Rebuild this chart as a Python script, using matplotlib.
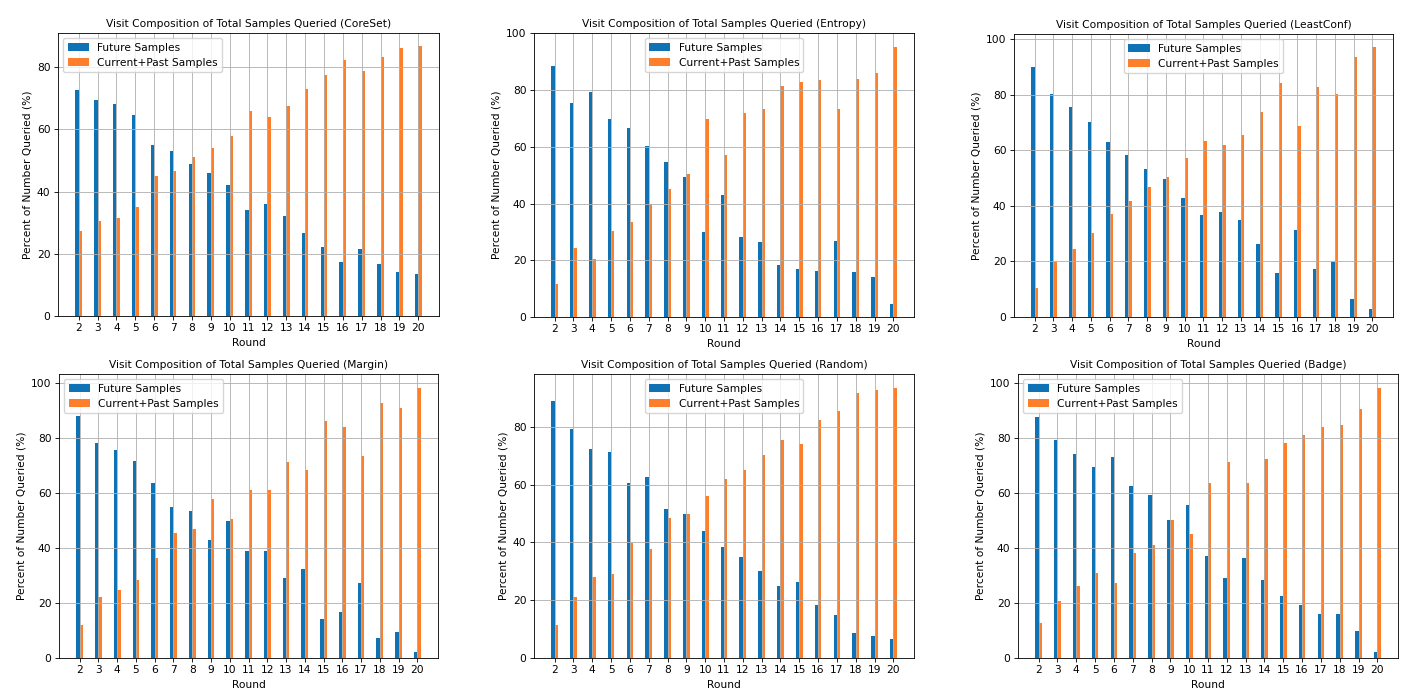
import matplotlib
matplotlib.use("Agg")
import matplotlib.pyplot as plt
import numpy as np

rounds = list(range(2, 21))

coreset_future = [72.7, 69.5, 68.2, 64.8, 55.1, 53.0, 48.9, 46.1, 42.2, 34.0, 36.0, 32.3, 26.8, 22.2, 17.5, 21.5, 16.8, 14.0, 13.4]
coreset_past = [27.4, 30.4, 31.6, 35.2, 44.9, 46.8, 51.3, 54.0, 57.8, 66.1, 64.1, 67.6, 73.0, 77.6, 82.4, 78.7, 83.4, 86.1, 86.7]

entropy_future = [88.5, 75.5, 79.5, 69.8, 66.5, 60.2, 54.8, 49.4, 30.0, 43.0, 28.2, 26.5, 18.5, 17.1, 16.3, 26.8, 16.0, 14.1, 4.6]
entropy_past = [11.5, 24.5, 20.5, 30.2, 33.5, 39.8, 45.2, 50.6, 70.0, 57.0, 71.8, 73.5, 81.5, 82.9, 83.7, 73.2, 84.0, 85.9, 95.4]

leastconf_future = [90.0, 80.2, 75.6, 70.0, 63.0, 58.2, 53.2, 49.7, 43.0, 36.7, 37.9, 34.8, 26.2, 16.0, 31.2, 17.1, 19.7, 6.6, 3.0]
leastconf_past = [10.3, 19.7, 24.6, 30.1, 37.2, 41.9, 46.8, 50.4, 57.1, 63.4, 62.0, 65.4, 73.8, 84.1, 68.9, 82.9, 80.2, 93.4, 97.0]

margin_future = [87.9, 78.2, 75.5, 71.5, 63.7, 54.8, 53.3, 42.8, 49.8, 38.9, 38.9, 29.1, 32.3, 14.1, 16.6, 27.1, 7.4, 9.3, 2.1]
margin_past = [12.1, 22.0, 24.7, 28.5, 36.4, 45.3, 46.9, 57.6, 50.5, 61.1, 61.1, 71.2, 68.2, 86.1, 83.8, 73.3, 92.7, 90.7, 98.2]

random_future = [88.9, 79.1, 72.2, 71.2, 60.7, 62.6, 51.6, 50.0, 44.1, 38.4, 35.0, 30.1, 24.8, 26.2, 18.2, 15.0, 8.6, 7.5, 6.7]
random_past = [11.5, 21.1, 28.2, 29.0, 39.7, 37.6, 48.4, 50.0, 55.9, 62.1, 65.0, 70.1, 75.6, 74.0, 82.3, 85.4, 91.6, 92.9, 93.6]

badge_future = [87.5, 79.3, 74.0, 69.3, 72.9, 62.3, 59.1, 50.1, 55.4, 36.9, 29.1, 36.3, 28.4, 22.5, 19.3, 16.0, 15.8, 9.9, 2.1]
badge_past = [12.6, 20.7, 26.2, 31.0, 27.4, 38.0, 41.0, 50.1, 45.0, 63.4, 71.1, 63.7, 72.1, 77.9, 81.0, 84.0, 84.5, 90.4, 98.2]

methods = ["CoreSet", "Entropy", "LeastConf", "Margin", "Random", "Badge"]
future_data = [coreset_future, entropy_future, leastconf_future, margin_future, random_future, badge_future]
past_data = [coreset_past, entropy_past, leastconf_past, margin_past, random_past, badge_past]
legend_locs = ["upper left", "upper center", "upper center", "upper left", "upper center", "upper left"]

W, H = 1426, 697
fig = plt.figure(figsize=(W / 100, H / 100), dpi=100)

# pixel boxes: left, right, top, bottom
boxes = [
    (58, 439, 33, 316),
    (534, 914, 33, 317),
    (1014, 1393, 34, 317),
    (59, 438, 374, 658),
    (534, 914, 374, 658),
    (1018, 1398, 374, 658),
]

s = 0.764
blue = "#0f72b4"
orange = "#fd7f2c"
w = 0.18
x = np.array(rounds)

for m, fut, past, box, loc in zip(methods, future_data, past_data, boxes, legend_locs):
    l, r, t, b = box
    ax = fig.add_axes([l / W, 1 - b / H, (r - l) / W, (b - t) / H])
    ax.bar(x - w / 2, fut, width=w, color=blue, label="Future Samples")
    ax.bar(x + w / 2, past, width=w, color=orange, label="Current+Past Samples")
    ax.set_xticks(rounds)
    ax.set_xticklabels([str(v) for v in rounds])
    ax.grid(True, color="#b0b0b0", linewidth=0.8 * s)
    ax.set_title(f"Visit Composition of Total Samples Queried ({m})", fontsize=10 * s, pad=6 * s)
    ax.set_xlabel("Round", fontsize=10 * s, labelpad=4 * s)
    ax.set_ylabel("Percent of Number Queried (%)", fontsize=10 * s, labelpad=4 * s)
    ax.tick_params(labelsize=10 * s, width=0.8 * s, length=3.5 * s, pad=3.5 * s)
    for sp in ax.spines.values():
        sp.set_linewidth(0.8 * s)
    ax.legend(loc=loc, fontsize=10 * s, frameon=True)

fig.savefig("out.png", dpi=100)
